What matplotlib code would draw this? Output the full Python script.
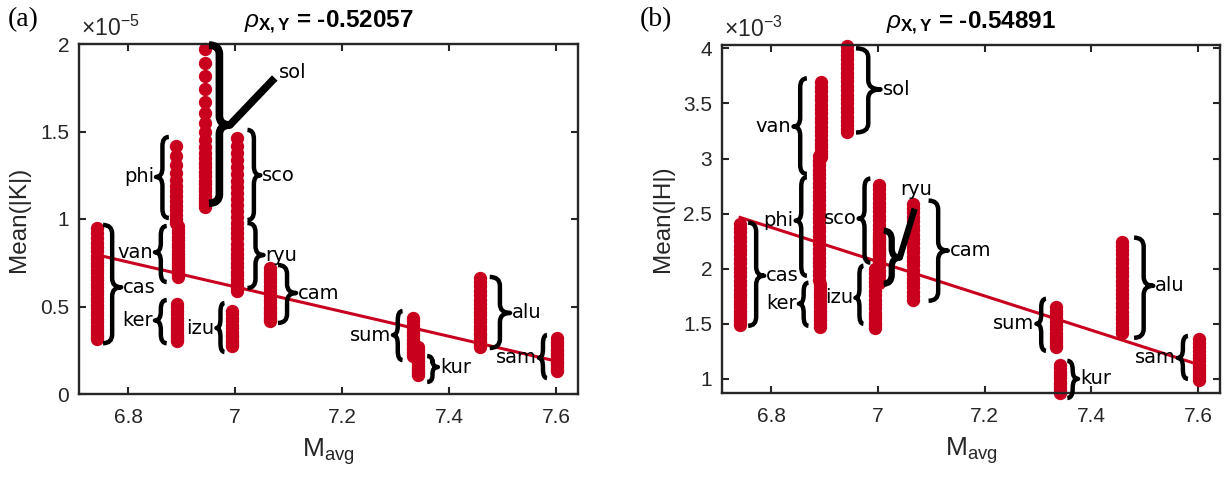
import numpy as np
import matplotlib
matplotlib.use("Agg")
import matplotlib.pyplot as plt
from matplotlib.path import Path
from matplotlib.patches import PathPatch
from matplotlib.ticker import FuncFormatter

plt.rcParams["font.family"] = "Liberation Sans"
plt.rcParams["mathtext.fontset"] = "custom"
plt.rcParams["mathtext.rm"] = "Liberation Sans"
plt.rcParams["mathtext.it"] = "Liberation Sans:italic"
plt.rcParams["mathtext.bf"] = "Liberation Sans:bold"

# ---------------------------------------------------------------- data
# average magnitude of each zone
m_avg = {"cas": 6.742, "van": 6.893, "phi": 6.889, "ker": 6.891, "sol": 6.943,
         "izu": 6.994, "sco": 7.003, "ryu": 7.003, "cam": 7.065, "sum": 7.333,
         "kur": 7.341, "alu": 7.457, "sam": 7.602}

# Mean(|K|), units of 1e-5
K_cas = [0.95, 0.92, 0.89, 0.865, 0.84, 0.815, 0.79, 0.77, 0.75, 0.73, 0.71, 0.69,
         0.67, 0.65, 0.63, 0.61, 0.59, 0.57, 0.55, 0.53, 0.51, 0.49, 0.47, 0.45,
         0.43, 0.41, 0.39, 0.37, 0.355, 0.34, 0.325, 0.314]
K_phi = [1.417, 1.36, 1.31, 1.265, 1.225, 1.19, 1.16, 1.13, 1.10, 1.075, 1.05,
         1.025, 1.0, 0.98]
K_van = [0.96, 0.94, 0.92, 0.90, 0.88, 0.86, 0.84, 0.82, 0.80, 0.785, 0.77, 0.755,
         0.74, 0.725, 0.71, 0.70, 0.69, 0.68, 0.668]
K_ker = [0.515, 0.495, 0.475, 0.455, 0.435, 0.415, 0.40, 0.385, 0.37, 0.355, 0.34,
         0.325, 0.313, 0.303]
K_sol = [1.97, 1.893, 1.817, 1.741, 1.67, 1.604, 1.547, 1.499, 1.451, 1.413, 1.38,
         1.35, 1.32, 1.295, 1.27, 1.245, 1.22, 1.20, 1.18, 1.16, 1.14, 1.12, 1.10,
         1.085, 1.068]
K_sco = [1.463, 1.42, 1.38, 1.34, 1.30, 1.26, 1.22, 1.185, 1.15, 1.115, 1.08,
         1.045, 1.01]
K_ryu = [0.98, 0.95, 0.92, 0.89, 0.86, 0.83, 0.80, 0.775, 0.75, 0.725, 0.70, 0.68,
         0.66, 0.64, 0.62, 0.605, 0.589]
K_izu = [0.475, 0.455, 0.435, 0.415, 0.395, 0.375, 0.355, 0.34, 0.325, 0.31, 0.295,
         0.284, 0.274]
K_cam = [0.72, 0.70, 0.68, 0.66, 0.64, 0.62, 0.60, 0.58, 0.56, 0.54, 0.52, 0.50,
         0.485, 0.47, 0.455, 0.44, 0.428, 0.417]
K_sum = [0.435, 0.415, 0.395, 0.375, 0.355, 0.335, 0.315, 0.30, 0.285, 0.27, 0.255,
         0.24, 0.228, 0.215]
K_kur = [0.27, 0.25, 0.235, 0.22, 0.205, 0.19, 0.175, 0.16, 0.145, 0.13, 0.12, 0.11]
K_alu = [0.663, 0.64, 0.615, 0.59, 0.565, 0.54, 0.515, 0.49, 0.47, 0.45, 0.43, 0.41,
         0.39, 0.37, 0.35, 0.335, 0.32, 0.305, 0.29, 0.278, 0.268]
K_sam = [0.32, 0.30, 0.28, 0.26, 0.245, 0.23, 0.215, 0.20, 0.185, 0.17, 0.155,
         0.142, 0.131]

# Mean(|H|), units of 1e-3
H_cas = [2.41, 2.37, 2.33, 2.29, 2.25, 2.21, 2.17, 2.13, 2.09, 2.05, 2.01, 1.97,
         1.93, 1.89, 1.85, 1.81, 1.77, 1.74, 1.71, 1.68, 1.65, 1.62, 1.59, 1.56,
         1.53, 1.51, 1.49]
H_van = [3.69, 3.65, 3.61, 3.57, 3.53, 3.49, 3.45, 3.41, 3.37, 3.33, 3.29, 3.25,
         3.21, 3.17, 3.13, 3.10, 3.07, 3.04, 3.01]
H_phi = [3.02, 2.98, 2.94, 2.90, 2.86, 2.82, 2.78, 2.74, 2.70, 2.66, 2.62, 2.58,
         2.54, 2.50, 2.46, 2.42, 2.38, 2.34, 2.30, 2.26, 2.22, 2.18, 2.14, 2.10,
         2.06, 2.02, 1.98, 1.94, 1.90]
H_ker = [1.86, 1.83, 1.80, 1.77, 1.74, 1.71, 1.68, 1.65, 1.62, 1.59, 1.56, 1.53,
         1.50, 1.47]
H_sol = [4.02, 3.98, 3.94, 3.90, 3.86, 3.82, 3.78, 3.74, 3.70, 3.66, 3.62, 3.58,
         3.54, 3.50, 3.46, 3.42, 3.38, 3.34, 3.30, 3.27, 3.245]
H_sco = [2.76, 2.72, 2.68, 2.64, 2.60, 2.56, 2.52, 2.48, 2.44, 2.40, 2.36, 2.32,
         2.28, 2.24, 2.20, 2.16, 2.12, 2.08, 2.05]
H_ryu = [2.30, 2.26, 2.22, 2.18, 2.14, 2.10, 2.06, 2.02, 1.98, 1.94, 1.90, 1.87]
H_izu = [2.00, 1.96, 1.92, 1.88, 1.84, 1.80, 1.76, 1.72, 1.68, 1.64, 1.60, 1.57,
         1.54, 1.51, 1.49, 1.465]
H_cam = [2.59, 2.55, 2.51, 2.47, 2.43, 2.39, 2.35, 2.31, 2.27, 2.23, 2.19, 2.15,
         2.11, 2.07, 2.03, 1.99, 1.95, 1.91, 1.87, 1.83, 1.79, 1.75, 1.72]
H_sum = [1.655, 1.62, 1.585, 1.55, 1.515, 1.48, 1.45, 1.42, 1.39, 1.36, 1.335,
         1.31, 1.29]
H_kur = [1.127, 1.095, 1.065, 1.035, 1.005, 0.975, 0.95, 0.925, 0.90, 0.875]
H_alu = [2.245, 2.21, 2.17, 2.13, 2.09, 2.05, 2.01, 1.97, 1.93, 1.89, 1.85, 1.81,
         1.77, 1.73, 1.69, 1.65, 1.61, 1.575, 1.54, 1.505, 1.47, 1.445, 1.42]
H_sam = [1.36, 1.325, 1.29, 1.255, 1.22, 1.19, 1.16, 1.13, 1.10, 1.07, 1.04,
         1.015, 0.99]

# least-squares lines and correlation coefficients
fit_x = [6.742, 7.607]
fit_K = [0.795, 0.183]
fit_H = [2.465, 1.12]
rho_K = -0.52057
rho_H = -0.54891

K_groups = {"cas": K_cas, "phi": K_phi, "van": K_van, "ker": K_ker, "sol": K_sol,
            "sco": K_sco, "ryu": K_ryu, "izu": K_izu, "cam": K_cam, "sum": K_sum,
            "kur": K_kur, "alu": K_alu, "sam": K_sam}
H_groups = {"cas": H_cas, "van": H_van, "phi": H_phi, "ker": H_ker, "sol": H_sol,
            "sco": H_sco, "ryu": H_ryu, "izu": H_izu, "cam": H_cam, "sum": H_sum,
            "kur": H_kur, "alu": H_alu, "sam": H_sam}

# ---------------------------------------------------------------- layout
# brace annotations: name -> (hook x, top, bottom, tip x, tip y)
K_braces = {
    "cas": (6.753, 0.966, 0.29, 6.787, 0.61),
    "van": (6.872, 0.960, 0.64, 6.850, 0.81),
    "phi": (6.876, 1.469, 1.006, 6.852, 1.24),
    "ker": (6.872, 0.537, 0.29, 6.850, 0.42),
    "izu": (6.980, 0.520, 0.24, 6.965, 0.377),
    "sco": (7.023, 1.509, 0.994, 7.047, 1.25),
    "ryu": (7.023, 0.977, 0.606, 7.053, 0.794),
    "cam": (7.080, 0.737, 0.406, 7.114, 0.577),
    "sum": (7.313, 0.474, 0.194, 7.295, 0.337),
    "kur": (7.359, 0.217, 0.069, 7.379, 0.154),
    "alu": (7.476, 0.669, 0.263, 7.514, 0.463),
    "sam": (7.583, 0.337, 0.091, 7.568, 0.206),
}
H_braces = {
    "sol": (6.959, 4.00, 3.236, 7.005, 3.627),
    "van": (6.867, 3.727, 2.86, 6.842, 3.29),
    "phi": (6.867, 2.83, 1.936, 6.846, 2.436),
    "sco": (6.986, 2.818, 2.055, 6.964, 2.455),
    "izu": (6.973, 2.027, 1.50, 6.958, 1.736),
    "ker": (6.870, 1.873, 1.482, 6.852, 1.682),
    "cas": (6.757, 2.418, 1.482, 6.787, 1.936),
    "cam": (7.095, 2.618, 1.709, 7.131, 2.164),
    "sum": (7.315, 1.727, 1.255, 7.297, 1.50),
    "kur": (7.355, 1.164, 0.827, 7.375, 1.00),
    "alu": (7.480, 2.282, 1.373, 7.516, 1.845),
    "sam": (7.581, 1.39, 1.00, 7.562, 1.19),
}

RED = "#C8001E"
INK = "#262626"
XLIM = (6.708, 7.641)

fig = plt.figure(figsize=(12.27, 4.82), dpi=100)
axA = fig.add_axes([79 / 1227, 1 - 394 / 482, 499 / 1227, 350 / 482])
axB = fig.add_axes([722 / 1227, 1 - 393 / 482, 498 / 1227, 348 / 482])


def style_axes(ax, yticks, ylim, ylabel, exponent):
    ax.set_xlim(*XLIM)
    ax.set_ylim(*ylim)
    ax.set_xticks([6.8, 7.0, 7.2, 7.4, 7.6])
    ax.set_yticks(yticks)
    fmt = FuncFormatter(lambda v, p: f"{v:g}")
    ax.xaxis.set_major_formatter(fmt)
    ax.yaxis.set_major_formatter(fmt)
    ax.tick_params(direction="in", top=True, right=True, length=5, width=1.5,
                   labelsize=15, colors=INK)
    ax.tick_params(axis="x", pad=10)
    ax.tick_params(axis="y", pad=7)
    for s in ax.spines.values():
        s.set_linewidth(1.7)
        s.set_color(INK)
    ax.set_xlabel(r"M$_{\mathregular{avg}}$", fontsize=19, color=INK, labelpad=7)
    ax.set_ylabel(ylabel, fontsize=17.5, color=INK, labelpad=7)
    ax.text(0.005, 1.008, r"$\times10^{%d}$" % exponent, transform=ax.transAxes,
            ha="left", va="bottom", fontsize=16.5, color=INK)


def draw_brace(ax, hx, yt, yb, tx, ty, lw=3.2, pointer=None):
    T = ax.transData
    (phx, pyt), (_, pyb), (ptx, pty) = T.transform([(hx, yt), (hx, yb), (tx, ty)])
    bx = 0.5 * (phx + ptx)
    r = min(9.0, (pyt - pyb) / 4.0)
    verts = [(phx, pyt), (bx, pyt), (bx, pyt - r),
             (bx, pty + r), (bx, pty), (ptx, pty),
             (bx, pty), (bx, pty - r),
             (bx, pyb + r), (bx, pyb), (phx, pyb)]
    codes = [Path.MOVETO, Path.CURVE3, Path.CURVE3,
             Path.LINETO, Path.CURVE3, Path.CURVE3,
             Path.CURVE3, Path.CURVE3,
             Path.LINETO, Path.CURVE3, Path.CURVE3]
    dv = T.inverted().transform(verts)
    ax.add_patch(PathPatch(Path(dv, codes), fill=False, lw=lw, ec="k",
                           capstyle="butt", joinstyle="round", clip_on=False,
                           zorder=5))
    if pointer is not None:
        ax.plot([tx, pointer[0]], [ty, pointer[1]], color="k", lw=lw,
                solid_capstyle="butt", clip_on=False, zorder=5)


def brace_label(ax, name, tx, ty, right):
    ax.annotate(name, (tx, ty), xytext=(1.5 if right else -1.5, 0),
                textcoords="offset points", ha="left" if right else "right",
                va="center", fontsize=14, family="DejaVu Sans", color="k",
                zorder=6)


def panel(ax, groups, fit_y, rho, braces):
    for name, vals in groups.items():
        ax.plot(np.full(len(vals), m_avg[name]), vals, "o", ms=9.6, mfc=RED,
                mec=RED, mew=0, clip_on=False, zorder=2)
    ax.plot(fit_x, fit_y, color=RED, lw=2.2, zorder=3)
    for name, (hx, yt, yb, tx, ty) in braces.items():
        draw_brace(ax, hx, yt, yb, tx, ty)
        brace_label(ax, name, tx, ty, tx > hx)
    ax.set_title(r"$\rho_{\mathbf{X,Y}}$ = %.5f" % rho, fontsize=17.5,
                 fontweight="bold", color="k", pad=12)


style_axes(axA, [0, 0.5, 1, 1.5, 2], (0, 2), "Mean(|K|)", -5)
style_axes(axB, [1, 1.5, 2, 2.5, 3, 3.5, 4], (0.872, 4.03), "Mean(|H|)", -3)

panel(axA, K_groups, fit_K, rho_K, K_braces)
panel(axB, H_groups, fit_H, rho_H, H_braces)

# the two braces that point to a label placed away from the column
draw_brace(axA, 6.951, 1.994, 1.09, 6.990, 1.537, lw=5.5, pointer=(7.074, 1.806))
axA.text(7.082, 1.84, "sol", ha="left", va="center", fontsize=14,
         family="DejaVu Sans", zorder=6)
draw_brace(axB, 7.011, 2.345, 1.864, 7.041, 2.10, lw=4.5, pointer=(7.069, 2.545))
axB.text(7.072, 2.718, "ryu", ha="center", va="center", fontsize=14,
         family="DejaVu Sans", zorder=6)

fig.text(8 / 1227, 1 - 20 / 482, "(a)", family="Liberation Serif", fontsize=20,
         va="center", ha="left")
fig.text(640 / 1227, 1 - 20 / 482, "(b)", family="Liberation Serif", fontsize=20,
         va="center", ha="left")

fig.savefig("out.png", dpi=100, facecolor="white")
